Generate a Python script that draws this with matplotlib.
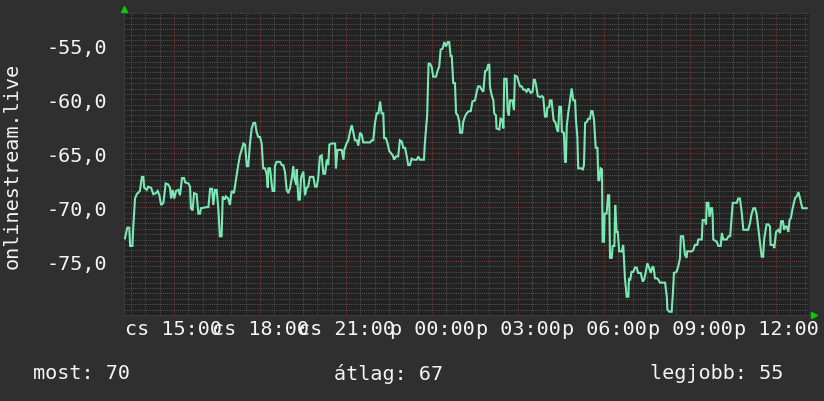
import matplotlib
matplotlib.use("Agg")
import matplotlib.pyplot as plt
from matplotlib.ticker import MultipleLocator

# hours since midnight of the first day (cs = Thursday, p = Friday)
hours = [
    13.29, 13.37, 13.44, 13.47, 13.55, 13.58, 13.64, 13.70, 13.81, 13.88, 13.93, 13.96,
    14.05, 14.10, 14.20, 14.28, 14.37, 14.43, 14.49, 14.55, 14.63, 14.71, 14.80, 14.86,
    14.90, 14.95, 15.01, 15.07, 15.15, 15.21, 15.28, 15.35, 15.39, 15.50, 15.56, 15.59,
    15.65, 15.70, 15.79, 15.85, 15.91, 15.94, 16.14, 16.20, 16.26, 16.33, 16.37, 16.43,
    16.49, 16.55, 16.60, 16.66, 16.70, 16.77, 16.81, 16.89, 16.95, 17.01, 17.09, 17.16,
    17.24, 17.30, 17.36, 17.42, 17.48, 17.54, 17.59, 17.65, 17.71, 17.77, 17.83, 17.88,
    17.94, 18.00, 18.06, 18.11, 18.17, 18.23, 18.27, 18.29, 18.35, 18.41, 18.44, 18.50,
    18.52, 18.58, 18.70, 18.76, 18.81, 18.87, 18.93, 18.99, 19.05, 19.11, 19.16, 19.20,
    19.26, 19.28, 19.34, 19.39, 19.43, 19.51, 19.57, 19.63, 19.68, 19.74, 19.86, 19.92,
    19.98, 20.03, 20.09, 20.15, 20.21, 20.27, 20.33, 20.38, 20.42, 20.50, 20.62, 20.65,
    20.70, 20.85, 20.91, 20.94, 21.02, 21.08, 21.14, 21.20, 21.25, 21.31, 21.38, 21.43,
    21.49, 21.55, 21.60, 21.84, 21.90, 21.95, 22.01, 22.07, 22.13, 22.19, 22.24, 22.30,
    22.33, 22.39, 22.45, 22.51, 22.57, 22.63, 22.68, 22.74, 22.82, 22.88, 22.94, 23.00,
    23.06, 23.12, 23.17, 23.23, 23.29, 23.35, 23.47, 23.52, 23.58, 23.72, 23.75, 23.81,
    23.83, 23.88, 23.93, 23.99, 24.04, 24.14, 24.20, 24.25, 24.30, 24.37, 24.43, 24.49,
    24.55, 24.60, 24.65, 24.69, 24.74, 24.80, 24.84, 24.90, 24.95, 24.98, 25.05, 25.09,
    25.15, 25.21, 25.29, 25.35, 25.41, 25.50, 25.56, 25.61, 25.67, 25.73, 25.79, 25.85,
    25.91, 25.96, 26.00, 26.02, 26.08, 26.14, 26.17, 26.23, 26.25, 26.35, 26.39, 26.45,
    26.49, 26.52, 26.60, 26.64, 26.68, 26.72, 26.80, 26.86, 26.89, 26.97, 27.03, 27.07,
    27.13, 27.18, 27.24, 27.30, 27.36, 27.42, 27.45, 27.51, 27.55, 27.59, 27.63, 27.69,
    27.77, 27.83, 27.88, 27.92, 27.94, 28.00, 28.02, 28.09, 28.11, 28.17, 28.21, 28.24,
    28.31, 28.36, 28.40, 28.44, 28.50, 28.53, 28.60, 28.64, 28.67, 28.70, 28.75, 28.81,
    28.87, 28.93, 28.99, 29.02, 29.07, 29.10, 29.20, 29.26, 29.30, 29.34, 29.40, 29.45,
    29.51, 29.55, 29.60, 29.65, 29.71, 29.77, 29.80, 29.84, 29.88, 29.93, 29.95, 30.00,
    30.02, 30.09, 30.14, 30.18, 30.21, 30.27, 30.30, 30.36, 30.39, 30.44, 30.48, 30.53,
    30.62, 30.67, 30.73, 30.79, 30.85, 30.87, 30.91, 30.96, 31.02, 31.08, 31.14, 31.19,
    31.28, 31.35, 31.40, 31.45, 31.51, 31.57, 31.63, 31.68, 31.72, 31.78, 31.84, 31.89,
    31.95, 32.13, 32.19, 32.21, 32.28, 32.36, 32.40, 32.44, 32.53, 32.59, 32.65, 32.68,
    32.76, 32.82, 32.88, 32.90, 33.06, 33.11, 33.17, 33.25, 33.29, 33.41, 33.44, 33.52,
    33.56, 33.58, 33.64, 33.68, 33.73, 33.77, 33.79, 33.81, 33.93, 33.99, 34.07, 34.11,
    34.16, 34.28, 34.34, 34.40, 34.45, 34.49, 34.63, 34.68, 34.74, 34.80, 34.86, 35.03,
    35.09, 35.15, 35.21, 35.27, 35.32, 35.38, 35.44, 35.50, 35.55, 35.59, 35.67, 35.73,
    35.79, 35.81, 35.90, 35.94, 36.00, 36.08, 36.14, 36.18, 36.24, 36.28, 36.32, 36.37,
    36.43, 36.47, 36.52, 36.58, 36.66, 36.72, 36.78, 36.84, 36.87, 36.92, 37.07,
]
signal = [
    -72.9, -71.9, -71.9, -73.6, -73.6, -71.8, -69.2, -68.8, -68.5, -67.2, -67.2, -68.2,
    -68.4, -68.1, -68.2, -68.8, -68.7, -68.5, -68.9, -69.8, -69.6, -67.8, -67.9, -68.2,
    -69.2, -68.4, -69.2, -68.5, -68.4, -68.9, -67.3, -67.3, -67.7, -67.8, -68.1, -70.1,
    -70.3, -68.7, -68.8, -70.6, -70.6, -70.1, -70.0, -70.0, -68.3, -68.3, -69.8, -68.4,
    -68.4, -70.3, -72.7, -72.7, -69.0, -69.3, -69.0, -69.2, -69.8, -68.5, -68.7, -67.5,
    -66.1, -65.2, -64.7, -64.1, -64.2, -66.2, -66.2, -64.1, -62.7, -62.2, -62.2, -63.0,
    -63.5, -63.5, -64.1, -66.4, -66.4, -66.9, -68.2, -66.4, -66.4, -67.9, -68.5, -68.5,
    -66.2, -65.8, -65.8, -66.1, -66.1, -66.7, -68.4, -68.7, -68.2, -67.3, -66.2, -67.3,
    -67.9, -66.5, -69.3, -69.3, -67.3, -66.7, -68.9, -68.2, -68.1, -67.2, -67.2, -68.1,
    -68.1, -67.3, -65.3, -65.2, -66.9, -66.9, -65.6, -66.1, -64.2, -64.1, -64.1, -66.4,
    -64.7, -64.7, -65.6, -64.7, -64.1, -63.8, -63.0, -62.4, -63.0, -63.8, -63.8, -64.3,
    -63.1, -63.3, -64.0, -64.0, -63.8, -63.8, -62.2, -61.3, -61.3, -60.2, -61.3, -61.3,
    -63.6, -63.6, -64.1, -64.8, -65.0, -65.2, -65.6, -65.3, -65.3, -63.8, -63.9, -64.5,
    -64.5, -65.3, -66.1, -66.1, -65.5, -65.6, -65.6, -65.3, -65.6, -65.6, -64.1, -62.2,
    -61.5, -56.7, -56.7, -57.0, -57.9, -57.9, -57.3, -57.0, -55.4, -55.3, -54.7, -55.1,
    -54.7, -54.7, -56.0, -56.0, -58.5, -58.5, -61.3, -61.5, -62.1, -63.1, -63.1, -62.1,
    -61.6, -61.3, -61.1, -61.1, -60.2, -60.1, -59.3, -58.8, -58.8, -59.1, -59.3, -57.4,
    -57.3, -56.8, -56.8, -58.8, -59.6, -60.1, -61.3, -61.5, -62.7, -62.8, -61.8, -61.9,
    -62.7, -58.1, -58.1, -61.1, -61.5, -60.1, -60.1, -61.0, -57.8, -57.9, -58.5, -58.8,
    -58.8, -59.1, -59.1, -59.3, -59.0, -59.3, -59.4, -59.3, -58.2, -58.2, -58.7, -59.7,
    -59.8, -59.7, -59.8, -61.0, -61.6, -61.6, -60.8, -60.7, -60.1, -60.1, -61.1, -61.9,
    -62.2, -62.8, -63.0, -60.7, -60.7, -63.0, -63.1, -65.8, -65.8, -62.5, -61.3, -60.2,
    -59.0, -60.1, -60.1, -61.9, -63.5, -66.4, -66.4, -66.5, -66.1, -62.2, -62.1, -61.8,
    -61.8, -61.1, -61.1, -61.9, -64.5, -64.5, -67.5, -67.5, -66.4, -66.5, -73.2, -73.2,
    -70.6, -70.6, -68.9, -68.9, -74.7, -74.7, -73.6, -73.6, -69.8, -72.3, -72.3, -74.1,
    -74.1, -73.5, -76.6, -78.3, -78.3, -76.6, -76.8, -76.0, -76.0, -75.6, -75.6, -76.1,
    -76.1, -76.9, -76.7, -76.1, -75.2, -75.6, -76.1, -75.6, -75.5, -76.6, -76.6, -76.7,
    -77.0, -77.0, -78.3, -79.5, -79.7, -79.7, -78.1, -76.1, -76.0, -75.5, -74.7, -72.7,
    -72.7, -74.4, -74.7, -74.1, -74.1, -74.0, -73.5, -73.5, -73.0, -73.0, -71.2, -71.2,
    -71.6, -69.6, -69.6, -70.9, -70.1, -70.1, -70.9, -73.0, -73.2, -73.6, -73.6, -72.4,
    -73.0, -73.0, -72.7, -72.7, -71.0, -69.6, -69.6, -69.2, -69.2, -70.4, -72.1, -72.1,
    -71.5, -70.6, -70.1, -70.1, -70.6, -71.9, -73.3, -74.6, -74.6, -72.9, -71.6, -71.6,
    -71.8, -73.5, -73.5, -73.8, -72.3, -72.1, -72.4, -71.3, -71.3, -72.1, -71.8, -71.8,
    -72.3, -71.2, -71.0, -70.1, -69.2, -69.0, -68.6, -69.2, -69.6, -70.1, -70.1,
]

x_label_hours = [15, 18, 21, 24, 27, 30, 33, 36]
x_labels = ["cs 15:00", "cs 18:00", "cs 21:00", "p 00:00",
            "p 03:00", "p 06:00", "p 09:00", "p 12:00"]
y_ticks = [-75, -70, -65, -60, -55]
y_labels = ["-75,0", "-70,0", "-65,0", "-60,0", "-55,0"]
summary = [("most: 70", 33), ("átlag: 67", 334), ("legjobb: 55", 650)]

BG = "#2f2f2f"
PLOT_BG = "#222222"
FG = "#f4f4f4"
FONT = "DejaVu Sans Mono"
FS = 14.5

fig = plt.figure(figsize=(8.24, 4.02), dpi=100, facecolor=BG)
ax = fig.add_axes([124 / 824, 86 / 402, 685 / 824, 302 / 402])
ax.set_facecolor(PLOT_BG)

ax.plot(hours, signal, color="#7be8b4", lw=1.5, solid_joinstyle="miter", zorder=3)

ax.set_xlim(13.256, 37.15)
ax.set_ylim(-80, -52)

# hourly red grid, half-hour grey grid, labels every 3 hours
ax.set_xticks(list(range(14, 38)))
ax.set_xticklabels([x_labels[x_label_hours.index(h)] if h in x_label_hours else ""
                    for h in range(14, 38)])
ax.xaxis.set_minor_locator(MultipleLocator(0.5))
ax.set_yticks(y_ticks)
ax.set_yticklabels(y_labels)
ax.yaxis.set_minor_locator(MultipleLocator(0.5))

ax.grid(which="minor", color="#565656", lw=0.7, ls=(0, (1, 1.2)), zorder=1)
ax.grid(which="major", color="#8a3434", lw=0.7, ls=(0, (1, 1.2)), zorder=2)
ax.set_axisbelow(True)

ax.tick_params(which="both", length=0, colors=FG, labelsize=FS)
ax.tick_params(axis="y", pad=12)
ax.tick_params(axis="x", pad=3)
for lab in ax.get_xticklabels() + ax.get_yticklabels():
    lab.set_fontfamily(FONT)

for side in ["top", "right"]:
    ax.spines[side].set_visible(False)
ax.spines["left"].set_color("#3c3c3c")
ax.spines["bottom"].set_color("#3c3c3c")

# rrdtool style axis arrows
ax.plot([0], [1.013], marker="^", color="#00d000", ms=5, transform=ax.transAxes, clip_on=False)
ax.plot([1.008], [0.0], marker=">", color="#00d000", ms=5, transform=ax.transAxes, clip_on=False)

fig.text(12 / 824, 1 - 166 / 402, "onlinestream.live", rotation=90, ha="center", va="center",
         color=FG, fontsize=FS, family=FONT)
for txt, xpx in summary:
    fig.text(xpx / 824, 1 - 374 / 402, txt, ha="left", va="center",
             color=FG, fontsize=FS, family=FONT)

fig.savefig("out.png", dpi=100, facecolor=BG)
